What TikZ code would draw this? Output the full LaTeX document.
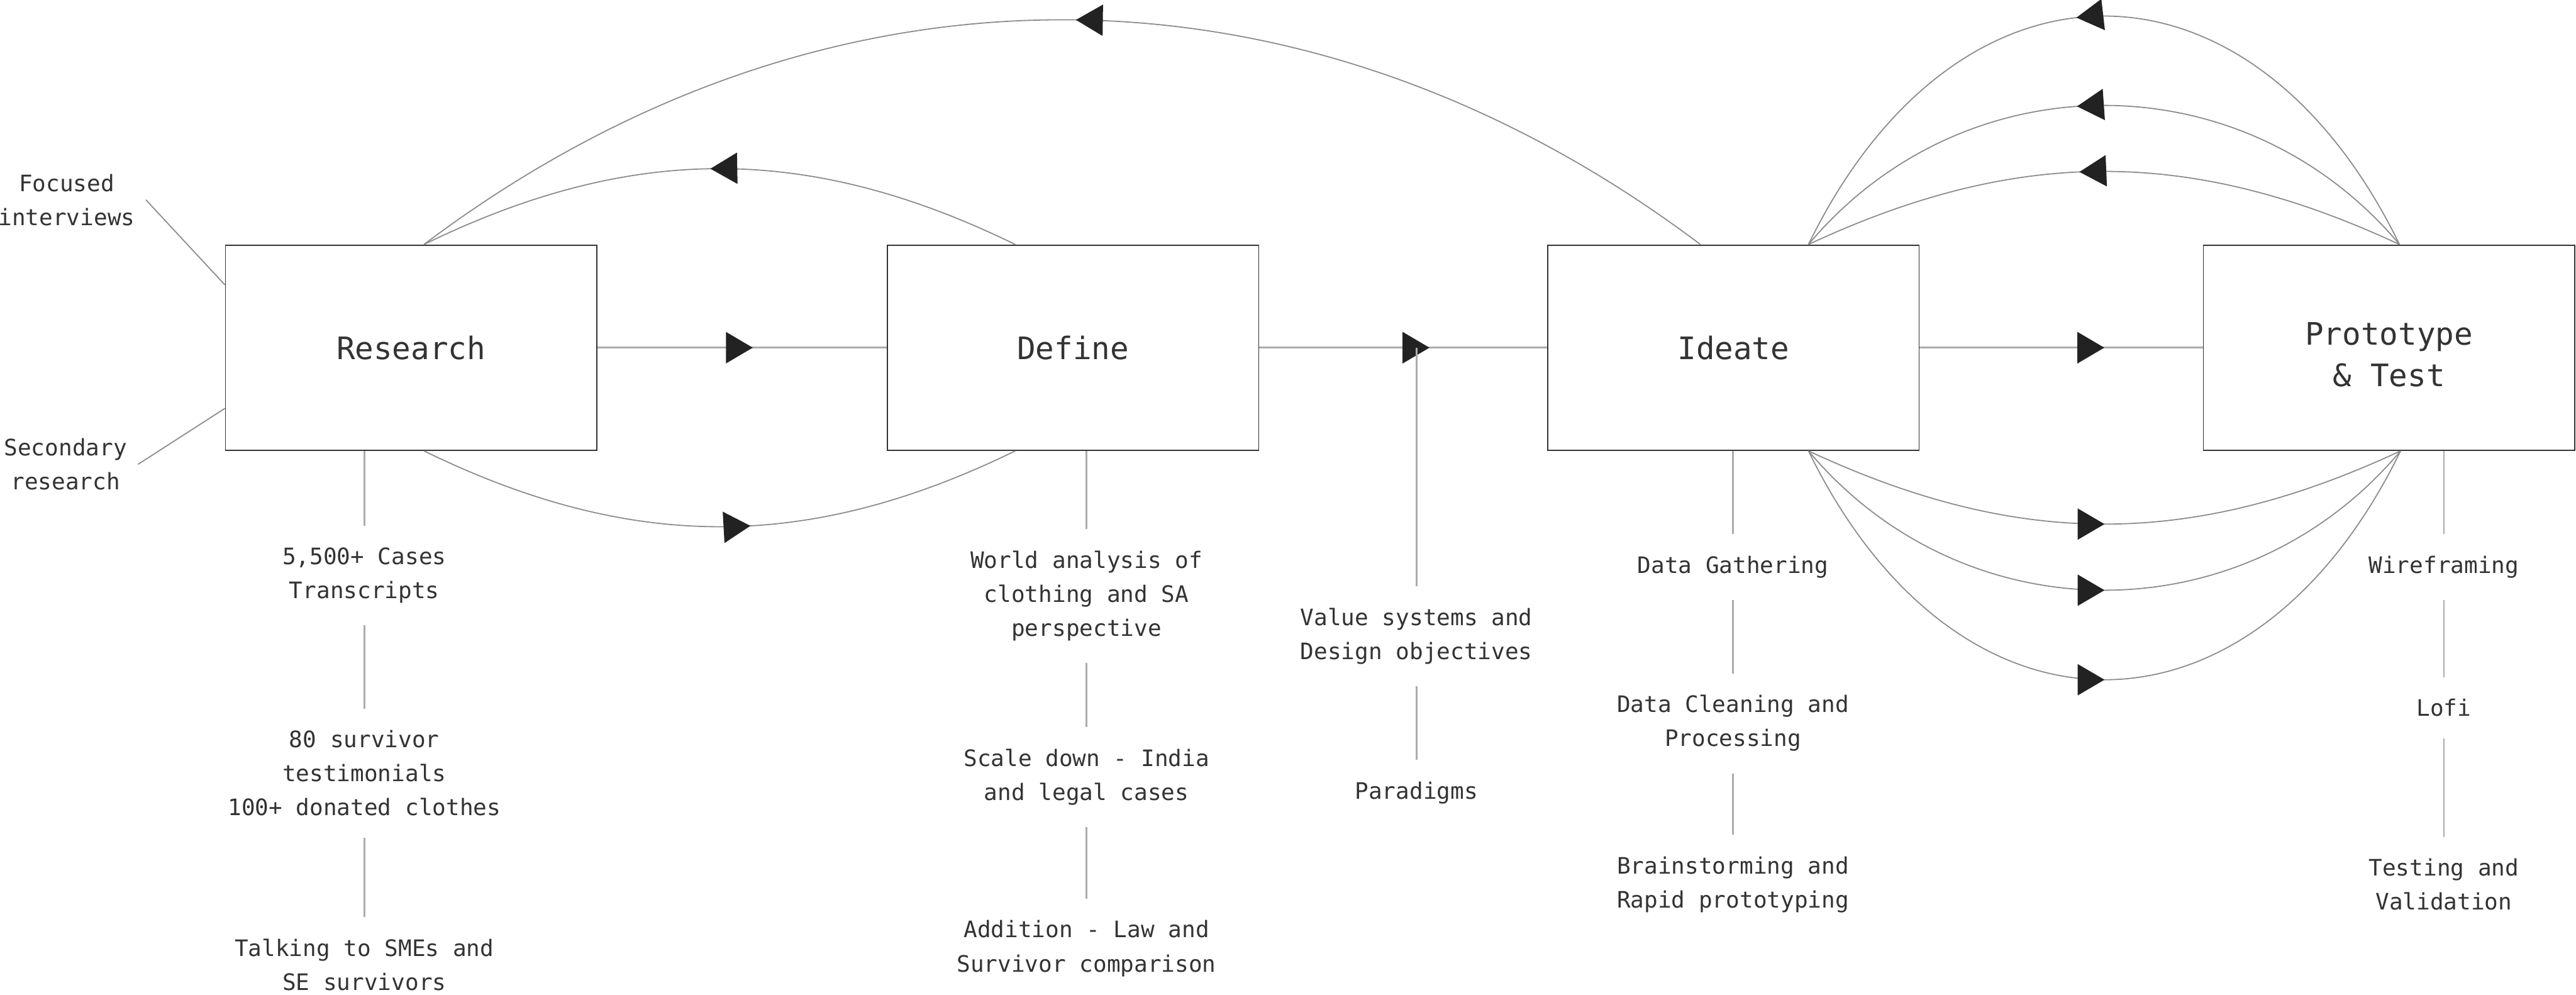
\documentclass[tikz,border=0pt]{standalone}
\usepackage{fontspec}
\setmonofont{DejaVu Sans Mono}
\usetikzlibrary{arrows.meta,decorations.markings}
\definecolor{boxc}{HTML}{333333}
\definecolor{txtc}{HTML}{333333}
\definecolor{linec}{HTML}{ABABAB}
\definecolor{arcc}{HTML}{8C8C8C}
\definecolor{arrc}{HTML}{222222}
\tikzset{midarrow/.style={postaction={decorate},decoration={markings,mark=at position #1 with {\arrow{Triangle[length=5mm,width=5.8mm,color=arrc]}}}}}
\begin{document}
\begin{tikzpicture}[x=1mm,y=1mm]
\tikzstyle{stagebox}=[draw=boxc, line width=0.6pt, minimum width=6.91cm, minimum height=3.82cm, align=center, text=txtc, font=\ttfamily\fontsize{16.4}{22}\selectfont]
\tikzstyle{itemtext}=[align=center, text=txtc, inner sep=4mm, font=\ttfamily\fontsize{12}{18}\selectfont]
\tikzstyle{sidetext}=[itemtext, inner sep=2mm]
\tikzstyle{flowline}=[draw=linec, line width=1pt]
\tikzstyle{backarc}=[draw=arcc, line width=0.6pt]
\tikzstyle{stemline}=[draw=linec, line width=0.85pt]
\useasboundingbox (0,0) rectangle (479.4,-185.1);
\node[stagebox] (res) at (76.5,-64.7) {Research};
\node[stagebox] (def) at (199.7,-64.7) {Define};
\node[stagebox] (ide) at (322.6,-64.7) {Ideate};
\node[stagebox] (pro) at (444.6,-64.7) {\rule{0pt}{6.8mm}Prototype\\\& Test};
\node[sidetext] (foc) at (12.4,-37.2) {Focused\\interviews};
\node[sidetext] (sec) at (12.2,-86.4) {Secondary\\research};
\node[itemtext] (r1) at (67.8,-107.1) {5,500+ Cases\\Transcripts};
\node[itemtext] (r2) at (67.8,-143.9) {80 survivor\\testimonials\\100+ donated clothes};
\node[itemtext] (r3) at (67.8,-179.5) {Talking to SMEs and\\SE survivors};
\node[itemtext] (d1) at (202.2,-110.9) {World analysis of\\clothing and SA\\perspective};
\node[itemtext] (d2) at (202.2,-144.6) {Scale down - India\\and legal cases};
\node[itemtext] (d3) at (202.2,-176.5) {Addition - Law and\\Survivor comparison};
\node[itemtext] (v1) at (263.6,-118.4) {Value systems and\\Design objectives};
\node[itemtext] (v2) at (263.6,-147.5) {Paradigms};
\node[itemtext] (i1) at (322.5,-105.5) {Data Gathering};
\node[itemtext] (i2) at (322.5,-134.6) {Data Cleaning and\\Processing};
\node[itemtext] (i3) at (322.5,-164.6) {Brainstorming and\\Rapid prototyping};
\node[itemtext] (p1) at (454.8,-105.5) {Wireframing};
\node[itemtext] (p2) at (454.8,-131.7) {Lofi};
\node[itemtext] (p3) at (454.8,-164.6) {Testing and\\Validation};
\draw[flowline, midarrow=0.537] (res) -- (def);
\draw[flowline, midarrow=0.591] (def) -- (ide);
\draw[flowline, midarrow=0.652] (ide) -- (pro);
\draw[backarc, midarrow=0.515] ([xshift=-10.75mm]def.north) to[bend right=26] ([xshift=2.4mm]res.north);
\draw[backarc, midarrow=0.49] ([xshift=-6.15mm]ide.north) to[bend right=37] ([xshift=2.4mm]res.north);
\draw[backarc, midarrow=0.55] ([xshift=2.4mm]res.south) to[bend right=26] ([xshift=-10.75mm]def.south);
\draw[backarc, midarrow=0.54] ([xshift=1.95mm]pro.north) to[bend right=25] ([xshift=13.95mm]ide.north);
\draw[backarc, midarrow=0.54] ([xshift=1.95mm]pro.north) to[bend right=50, looseness=1.05] ([xshift=13.95mm]ide.north);
\draw[backarc, midarrow=0.535] ([xshift=1.95mm]pro.north) to[bend right=64, looseness=1.47] ([xshift=13.95mm]ide.north);
\draw[backarc, midarrow=0.5] ([xshift=13.95mm]ide.south) to[bend right=25] ([xshift=2.15mm]pro.south);
\draw[backarc, midarrow=0.5] ([xshift=13.95mm]ide.south) to[bend right=50, looseness=1.05] ([xshift=2.15mm]pro.south);
\draw[backarc, midarrow=0.5] ([xshift=13.95mm]ide.south) to[bend right=64, looseness=1.47] ([xshift=2.15mm]pro.south);
\draw[backarc] (foc.east) -- ([yshift=11.7mm]res.west);
\draw[backarc] (sec.east) -- ([yshift=-11.3mm]res.west);
\draw[stemline] (res.south -| r1) -- (r1);
\draw[stemline] (r1) -- (r2);
\draw[stemline] (r2) -- (r3);
\draw[stemline] (def.south -| d1) -- (d1);
\draw[stemline] (d1) -- (d2);
\draw[stemline] (d2) -- (d3);
\draw[stemline] (def.east -| v1) -- (v1);
\draw[stemline] (v1) -- (v2);
\draw[stemline] (ide.south -| i1) -- (i1);
\draw[stemline] (i1) -- (i2);
\draw[stemline] (i2) -- (i3);
\draw[stemline] (pro.south -| p1) -- (p1);
\draw[stemline] (p1) -- (p2);
\draw[stemline] (p2) -- (p3);
\end{tikzpicture}
\end{document}
